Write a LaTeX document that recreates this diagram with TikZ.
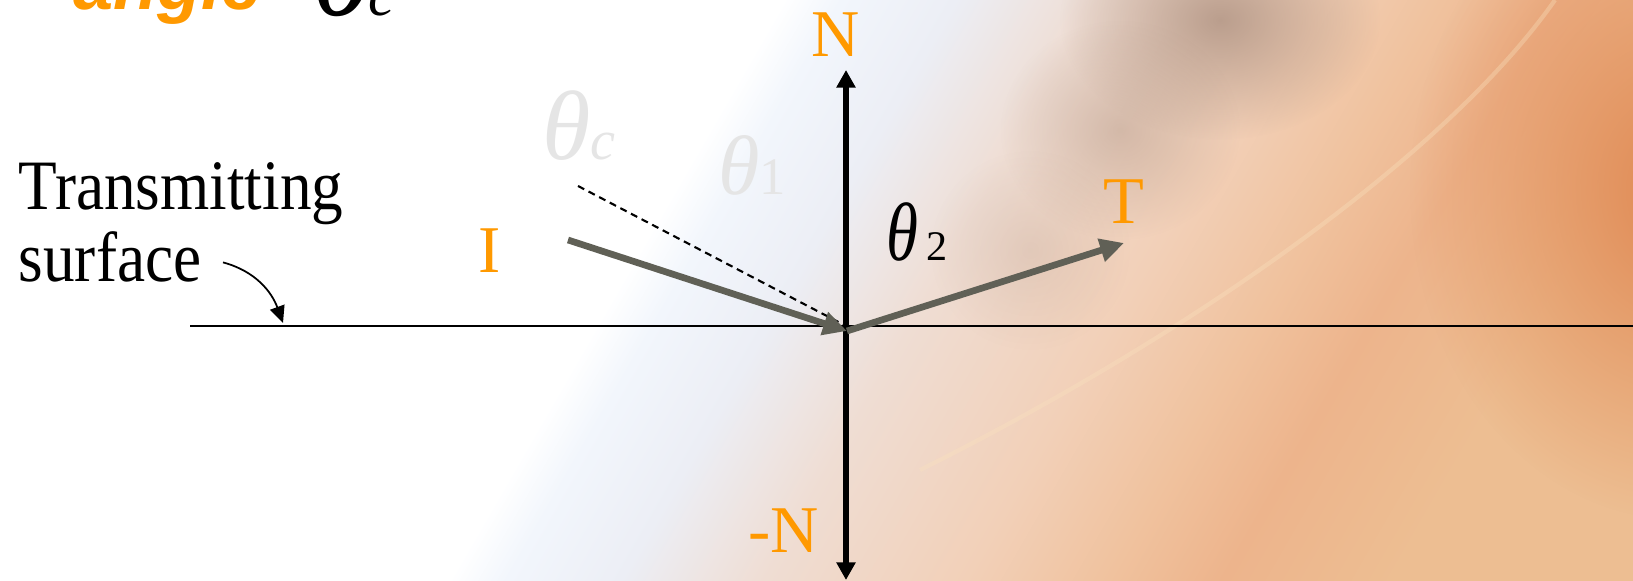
\documentclass[tikz,border=0pt]{standalone}
\usepackage{fontspec}
\setmainfont{Liberation Serif}
\newfontfamily\titlefont{Liberation Sans}
\usepackage{graphicx}
\usepackage{tikz}
\usetikzlibrary{arrows.meta,positioning,calc,fadings}

\definecolor{rayorange}{RGB}{255,153,0}
\definecolor{raygray}{RGB}{96,96,86}
\definecolor{bgblue}{RGB}{242,246,252}
\definecolor{bglav}{RGB}{236,238,245}
\definecolor{bgpale}{RGB}{239,221,211}
\definecolor{bgpeach}{RGB}{242,208,184}
\definecolor{bglight}{RGB}{240,194,158}
\definecolor{bgorange}{RGB}{237,180,140}
\definecolor{bgtan}{RGB}{237,190,146}
\definecolor{bgdeep}{RGB}{224,136,82}
\definecolor{bgshadow}{RGB}{168,140,124}
\definecolor{bgstreak}{RGB}{250,226,190}

\pgfdeclarehorizontalshading{slideback}{100bp}{%
  color(0bp)=(white); color(43bp)=(white); color(45bp)=(bgblue);
  color(49bp)=(bglav); color(54bp)=(bgpale); color(61bp)=(bgpeach);
  color(66bp)=(bglight); color(70bp)=(bgorange);
  color(76bp)=(bgtan); color(100bp)=(bgtan)}

\tikzfading[name=softblob, inner color=transparent!0, outer color=transparent!100]

\newcommand{\tall}[1]{\scalebox{1}[1.12]{#1}}

\begin{document}
\begin{tikzpicture}[
  txt/.style={inner sep=0pt, font=\fontsize{18}{22}\selectfont},
  lbl/.style={inner sep=0pt, text=rayorange, font=\fontsize{19}{23}\selectfont},
  ghost/.style={inner sep=0pt, text=black!10, font=\itshape\fontsize{28}{32}\selectfont},
  nline/.style={line width=1.9pt,
                {Triangle[length=5pt,width=5.2pt]}-{Triangle[length=5pt,width=5.2pt]}},
  ray/.style={line width=1.9pt, draw=raygray, -{Triangle[length=6.8pt,width=6.5pt]}},
  crit/.style={line width=0.6pt, dash pattern=on 2pt off 1.4pt},
  surfline/.style={line width=0.7pt},
  curv/.style={line width=0.5pt, -{Triangle[length=4.8pt,width=4.3pt]}},
  blob/.style={path fading=softblob}
]
% --- Background ---
\useasboundingbox (0,0) rectangle (16.33,-5.81);
\begin{scope}
  \clip (0,0) rectangle (16.33,-5.81);
  \shade[shading=slideback, shading angle=-30] (0,0) rectangle (16.33,-5.81);
  \fill[bgdeep, blob] (16.8,-1.9) ellipse (2.7 and 3.3);
  \fill[bgshadow, blob, opacity=0.75] (12.2,-0.2) ellipse (1.6 and 1.2);
  \fill[bgshadow, blob, opacity=0.4] (11.2,-1.3) ellipse (1.2 and 1.1);
  \fill[bgshadow, blob, opacity=0.2] (10.3,-2.5) ellipse (1.0 and 1.0);
  \draw[bgstreak, opacity=0.35, line width=1.2pt]
    (15.55,0) .. controls (14.5,-1.5) and (12.0,-3.3) .. (9.2,-4.7);
\end{scope}

% --- Title (cut off at the top) ---
\node[anchor=base west, inner sep=0pt, text=rayorange,
      font=\titlefont\bfseries\itshape\fontsize{20.5}{24}\selectfont] (ttl) at (0.73,-0.10) {angle};
\node[anchor=base west, inner sep=0pt, font=\itshape\fontsize{37}{40}\selectfont]
  (thc) at (3.11,-0.16) {θ\kern-2pt{\fontsize{17}{20}\selectfont c}};

% --- Surface and normal ---
\coordinate (O) at (8.46,-3.26);
\coordinate (hit) at (8.47,-3.31);
\coordinate (sleft) at (1.90,-3.26);
\coordinate (sright) at (16.33,-3.26);
\coordinate (ntop) at (8.46,-0.70);
\coordinate (nbot) at (8.46,-5.80);
\draw[surfline] (sleft) -- (sright);
\draw[nline] (nbot) -- (ntop);

% --- Labels of the normal and the rays ---
\node[lbl, anchor=base] (nlab) at (8.355,-0.57) {N};
\node[lbl, anchor=base] (nneg) at (7.835,-5.53) {-N};
\node[lbl, anchor=base] (ilab) at (4.90,-2.73) {I};
\node[lbl, anchor=base] (tlab) at (11.24,-2.24) {T};

% --- Faint angle marks ---
\node[ghost, anchor=base] (gc) at (5.79,-1.60) {θ{\fontsize{16}{18}\selectfont c}};
\node[ghost, anchor=base, font=\itshape\fontsize{24}{28}\selectfont]
  (g1) at (7.52,-1.95) {θ{\upshape\fontsize{15}{17}\selectfont 1}};

% --- Rays ---
\coordinate (istart) at (5.68,-2.40);
\coordinate (ttip) at (11.24,-2.43);
\coordinate (cstart) at (5.78,-1.86);
\draw[crit] (cstart) -- (O);
\draw[ray] (istart) -- (hit);
\draw[ray] (hit) -- (ttip);

\node[anchor=base, inner sep=0pt] (th2) at (9.17,-2.61)
  {\itshape\fontsize{22}{26}\selectfont\scalebox{0.84}[1.07]{θ}\kern2.5pt\upshape\fontsize{12}{14}\selectfont 2};

% --- Surface label ---
\node[txt, anchor=base west] (trans) at (0.18,-2.10) {\tall{Transmitting}};
\node[txt, anchor=base west] (surf) at (0.18,-2.82) {\tall{surface}};
\coordinate (shit) at (2.83,-3.23);
\draw[curv] ([xshift=2.1mm,yshift=-0.5mm]surf.east) to[out=-15,in=110] (shit);
\end{tikzpicture}
\end{document}
